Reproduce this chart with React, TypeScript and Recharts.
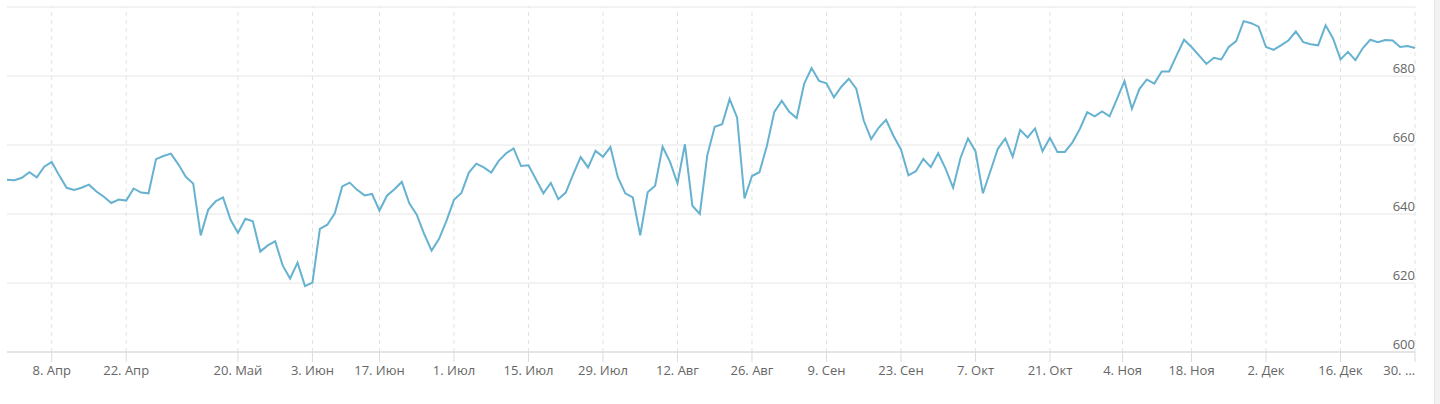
import React from 'react';
import { LineChart, Line, XAxis, YAxis, CartesianGrid, ReferenceLine } from 'recharts';

// Daily closing values (trading days, 29 Mar – 30 Dec)
const values: number[] = [
  649.9, 649.8, 650.5, 652.1, 650.6, 653.7, 655.1, 651.2, 647.6, 647.0,
  647.6, 648.5, 646.5, 645.0, 643.2, 644.2, 643.9, 647.4, 646.2, 646.0,
  655.9, 656.8, 657.5, 654.4, 650.8, 648.8, 633.8, 641.2, 643.7, 644.8,
  638.4, 634.5, 638.6, 637.9, 629.1, 630.9, 632.1, 625.1, 621.3, 625.9,
  619.1, 620.1, 635.7, 636.9, 640.2, 648.0, 649.1, 647.0, 645.4, 645.8,
  641.0, 645.3, 647.2, 649.3, 643.1, 639.8, 634.2, 629.4, 632.8, 638.1,
  644.1, 646.1, 652.0, 654.6, 653.5, 652.0, 655.4, 657.6, 659.0, 653.9,
  654.1, 650.1, 646.0, 649.0, 644.3, 646.2, 651.5, 656.5, 653.5, 658.3,
  656.6, 659.4, 650.6, 646.0, 644.8, 633.8, 646.3, 648.2, 659.5, 655.1,
  648.9, 660.2, 642.4, 640.0, 657.0, 665.3, 666.0, 673.3, 668.0, 644.5,
  651.0, 652.1, 659.7, 669.6, 672.8, 669.6, 667.8, 677.7, 682.3, 678.6,
  677.9, 673.8, 676.9, 679.2, 676.3, 667.1, 661.7, 665.0, 667.3, 662.6,
  658.7, 651.2, 652.4, 656.0, 653.6, 657.6, 653.1, 647.6, 656.3, 661.9,
  658.2, 646.0, 652.4, 658.9, 661.9, 656.6, 664.4, 662.2, 664.8, 658.2,
  662.1, 658.0, 658.0, 660.7, 664.6, 669.5, 668.3, 669.7, 668.3, 673.4,
  678.5, 670.5, 676.2, 679.0, 677.8, 681.3, 681.3, 686.0, 690.5, 688.4,
  686.0, 683.5, 685.3, 684.8, 688.4, 690.1, 695.9, 695.3, 694.3, 688.4,
  687.6, 688.9, 690.3, 692.9, 689.8, 689.2, 688.9, 694.7, 690.9, 684.8,
  687.0, 684.6, 688.1, 690.5, 689.8, 690.4, 690.3, 688.4, 688.7, 688.1,
];

// Tick positions (trading-day index) and their labels
const tickIndex: number[] = [6, 16, 31, 41, 50, 60, 70, 80, 90, 100, 110, 120, 130, 140, 149.75, 159, 169, 179, 189];
const tickLabels: string[] = [
  '8. Апр', '22. Апр', '20. Май', '3. Июн', '17. Июн', '1. Июл', '15. Июл', '29. Июл',
  '12. Авг', '26. Авг', '9. Сен', '23. Сен', '7. Окт', '21. Окт', '4. Ноя', '18. Ноя',
  '2. Дек', '16. Дек', '30. Дек',
];
const yTicks: number[] = [600, 620, 640, 660, 680, 700];

const data = values.map((v, i) => ({ i, v }));

const FONT = '"Open Sans", "DejaVu Sans", sans-serif';

const XTick = (props: any) => {
  const { x, y, payload } = props;
  const idx = tickIndex.indexOf(payload.value);
  let label = idx >= 0 ? tickLabels[idx] : '';
  const last = idx === tickIndex.length - 1;
  if (last) label = label.split(' ')[0] + ' …';
  return (
    <text
      x={x}
      y={y + 11}
      textAnchor={last ? 'end' : 'middle'}
      fill="#666666"
      fontSize={13}
      fontFamily={FONT}
    >
      {label}
    </text>
  );
};

const YTick = (props: any) => {
  const { x, y, payload } = props;
  if (payload.value === 700) return null;
  return (
    <text x={x} y={y - 3} textAnchor="end" fill="#666666" fontSize={13} fontFamily={FONT}>
      {payload.value}
    </text>
  );
};

export default function App() {
  return (
    <div style={{ position: 'absolute', left: 0, top: 0, width: 1440, height: 404, background: '#fff' }}>
      <LineChart
        width={1440}
        height={404}
        data={data}
        margin={{ top: 7, right: 25, bottom: 22, left: 7 }}
      >
        <CartesianGrid vertical={false} stroke="#e6e6e6" />
        {tickIndex.map((t) => (
          <ReferenceLine key={t} x={t} stroke="#e2e2e2" strokeDasharray="4 4" ifOverflow="visible" />
        ))}
        <XAxis
          type="number"
          dataKey="i"
          domain={[0, 189]}
          ticks={tickIndex}
          interval={0}
          allowDecimals
          height={30}
          axisLine={{ stroke: '#d6d6d6' }}
          tickLine={{ stroke: '#dcdcdc' }}
          tickSize={10}
          tickMargin={2}
          tick={<XTick />}
        />
        <YAxis
          orientation="right"
          mirror
          domain={[600, 700]}
          ticks={yTicks}
          interval={0}
          axisLine={false}
          tickLine={false}
          tickSize={0}
          tickMargin={0}
          tick={<YTick />}
        />
        <Line
          type="linear"
          dataKey="v"
          stroke="#66b2d0"
          strokeWidth={2}
          dot={false}
          activeDot={false}
          isAnimationActive={false}
        />
      </LineChart>
      <div
        style={{
          position: 'absolute',
          left: 1434,
          top: 0,
          width: 6,
          height: 404,
          background: '#f2f2f2',
          borderLeft: '1px solid #e4e4e4',
          boxSizing: 'border-box',
        }}
      />
    </div>
  );
}
